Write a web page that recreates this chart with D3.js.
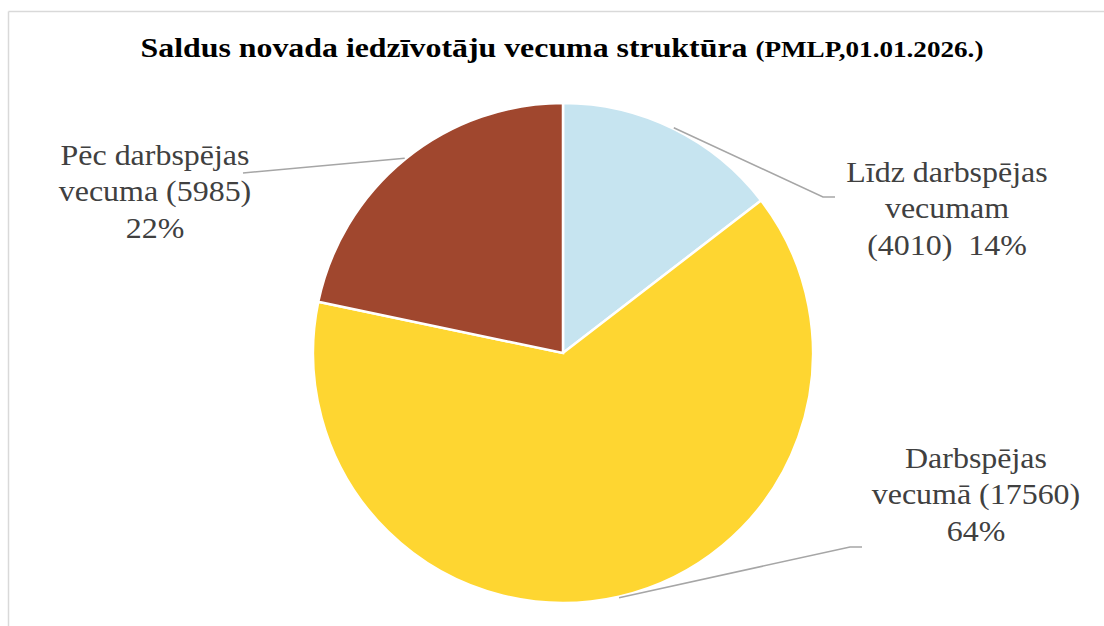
<!DOCTYPE html>
<html>
<head>
<meta charset="utf-8">
<script src="https://cdn.jsdelivr.net/npm/d3@7"></script>
<style>
	body { margin: 0; background: #fff; }
	svg { display: block; }
	.leader { fill: none; stroke: #a6a6a6; stroke-width: 1.5; }
</style>
</head>
<body>
<div class="chart"></div>
<script>
// data
var categories = ["Līdz darbspējas vecumam", "Darbspējas vecumā", "Pēc darbspējas vecuma"];
var values = [4010, 17560, 5985];
var colors = ["#c6e4f0", "#fed631", "#a0472e"];
var labelLines = [
	["Līdz darbspējas", "vecumam", "(4010)  14%"],
	["Darbspējas", "vecumā (17560)", "64%"],
	["Pēc darbspējas", "vecuma (5985)", "22%"]
];

var SERIF = "'Liberation Serif', 'Times New Roman', serif";

var width = 1104, height = 626;
var cx = 563, cy = 353, radius = 250;

// label layout: text centre x, first baseline y, leader end point, elbow length
var labelLayout = [
	{x: 947, y: 182, ex: 823, ey: 197, elbow: 12},
	{x: 976, y: 468, ex: 850, ey: 547, elbow: 12},
	{x: 155, y: 165, ex: 243, ey: 173, elbow: 0}
];

var svg = d3.select(".chart").append("svg")
	.attr("width", width)
	.attr("height", height);

// chart frame (only top and left edges are visible)
svg.append("line")
	.attr("x1", 8.5).attr("y1", 11.5).attr("x2", width).attr("y2", 11.5)
	.style("stroke", "#d9d9d9").style("stroke-width", 1.5);
svg.append("line")
	.attr("x1", 8.5).attr("y1", 11.5).attr("x2", 8.5).attr("y2", height)
	.style("stroke", "#d9d9d9").style("stroke-width", 1.5);

// the source picture is slightly stretched horizontally
var title = svg.append("text")
	.attr("transform", "translate(562,57) scale(1.18,1)")
	.attr("font-family", SERIF)
	.attr("font-weight", "bold")
	.attr("fill", "#000")
	.attr("text-anchor", "middle");
title.append("tspan").attr("font-size", 27).text("Saldus novada iedzīvotāju vecuma struktūra ");
title.append("tspan").attr("font-size", 23).text("(PMLP,01.01.2026.)");

var pie = d3.pie().sort(null).value(function(d) { return d; });
var arcs = pie(values);

var arc = d3.arc().innerRadius(0).outerRadius(radius);

var chartArea = svg.append("g")
	.attr("transform", "translate(" + cx + "," + cy + ")");

chartArea.selectAll("path.slice")
	.data(arcs)
	.enter().append("path")
	.attr("class", "slice")
	.attr("d", arc)
	.style("fill", function(d, i) { return colors[i]; })
	.style("stroke", "#fff")
	.style("stroke-width", 2.5);

for (var i = 0; i < arcs.length; i++)
{
	var a = arcs[i];
	var mid = (a.startAngle + a.endAngle) / 2;
	var sx = Math.sin(mid) * (radius + 1);
	var sy = -Math.cos(mid) * (radius + 1);
	var l = labelLayout[i];
	var ex = l.ex - cx, ey = l.ey - cy;
	var pts = [[sx, sy], [ex, ey]];
	if (l.elbow) pts.push([ex + l.elbow, ey]);

	chartArea.append("path")
		.attr("class", "leader")
		.attr("d", d3.line()(pts));

	var t = svg.append("text")
		.attr("transform", "translate(" + l.x + "," + l.y + ") scale(1.065,1)")
		.attr("font-family", SERIF)
		.attr("font-size", 30)
		.attr("fill", "#404040")
		.attr("text-anchor", "middle");
	labelLines[i].forEach(function(line, k) {
		t.append("tspan")
			.attr("x", 0)
			.attr("y", k * 36.5)
			.style("white-space", "pre")
			.text(line);
	});
}
</script>
</body>
</html>
